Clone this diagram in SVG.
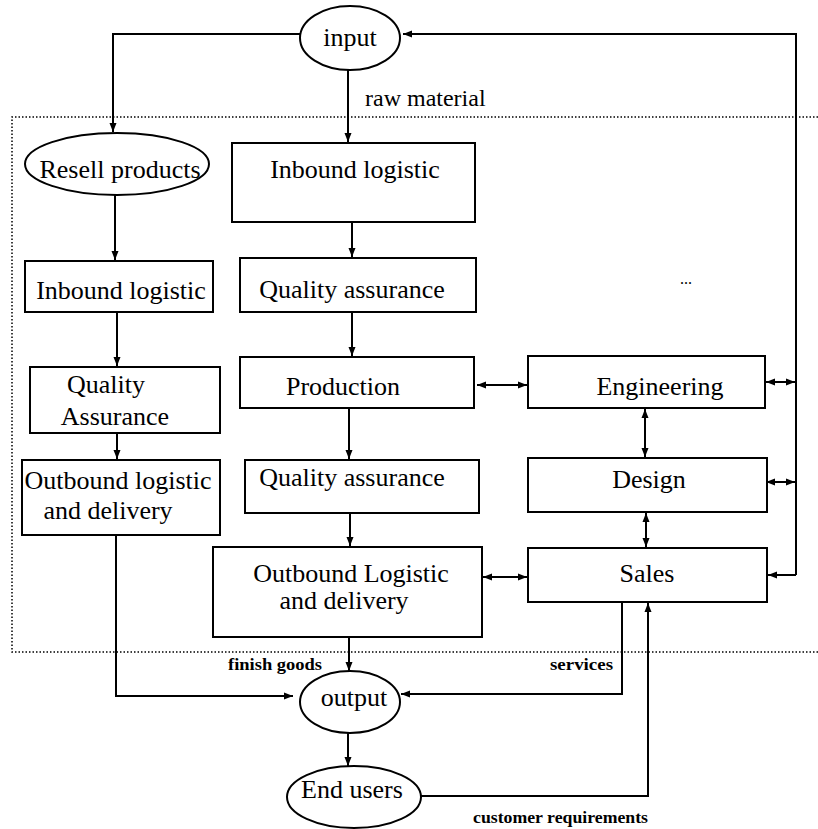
<svg xmlns="http://www.w3.org/2000/svg" width="818" height="829" viewBox="0 0 818 829">
<style>
.box{fill:#fff;stroke:#000;stroke-width:2}
.t{font-family:"Liberation Serif","Times New Roman",serif;font-size:26px;fill:#000;text-anchor:middle}
.s{font-family:"Liberation Serif","Times New Roman",serif;font-size:16px;font-weight:bold;fill:#000}
.c{fill:none;stroke:#000;stroke-width:2}
.dot{fill:none;stroke:#000;stroke-width:1.5;stroke-dasharray:1.5 2}
</style>
<defs>
<marker id="ah" markerUnits="userSpaceOnUse" markerWidth="9" markerHeight="8" refX="9" refY="4" orient="auto-start-reverse">
<path d="M0,0.5 L9,4 L0,7.5 z" fill="#000"/>
</marker>
</defs>
<rect width="818" height="829" fill="#fff"/>
<g id="boundary">
<path class="dot" d="M818,117 H12 V652 H818"/>
</g>
<g id="connectors">
<path class="c" d="M300,34 H113 V132" marker-end="url(#ah)"/>
<path class="c" d="M348,70 V142" marker-end="url(#ah)"/>
<path class="c" d="M796,575 V34 H403" marker-end="url(#ah)"/>
<path class="c" d="M796,575 H768" marker-end="url(#ah)"/>
<path class="c" d="M115,195 V260" marker-end="url(#ah)"/>
<path class="c" d="M117,312 V366" marker-end="url(#ah)"/>
<path class="c" d="M117,433 V459" marker-end="url(#ah)"/>
<path class="c" d="M116,535 V696 H293" marker-end="url(#ah)"/>
<path class="c" d="M352,222 V257" marker-end="url(#ah)"/>
<path class="c" d="M352,312 V356" marker-end="url(#ah)"/>
<path class="c" d="M349,408 V459" marker-end="url(#ah)"/>
<path class="c" d="M350,513 V546" marker-end="url(#ah)"/>
<path class="c" d="M349,637 V671" marker-end="url(#ah)"/>
<path class="c" d="M348,733 V766" marker-end="url(#ah)"/>
<path class="c" d="M477,385 H527" marker-start="url(#ah)" marker-end="url(#ah)"/>
<path class="c" d="M766,382 H795" marker-start="url(#ah)" marker-end="url(#ah)"/>
<path class="c" d="M645,409 V457" marker-start="url(#ah)" marker-end="url(#ah)"/>
<path class="c" d="M766,482 H795" marker-start="url(#ah)" marker-end="url(#ah)"/>
<path class="c" d="M646,513 V547" marker-start="url(#ah)" marker-end="url(#ah)"/>
<path class="c" d="M483,577 H527" marker-start="url(#ah)" marker-end="url(#ah)"/>
<path class="c" d="M622,602 V694 H401" marker-end="url(#ah)"/>
<path class="c" d="M421,796 H648 V603" marker-end="url(#ah)"/>
</g>
<g id="input">
<ellipse class="box" cx="350" cy="38" rx="50" ry="32"/>
<text class="t" x="350" y="46">input</text>
</g>
<text class="t" x="365" y="106" style="text-anchor:start;font-size:24px">raw material</text>
<g id="resell">
<ellipse class="box" cx="117" cy="164" rx="92" ry="31"/>
<text class="t" x="120" y="178">Resell products</text>
</g>
<g id="inbound-main">
<rect class="box" x="232" y="143" width="243" height="79"/>
<text class="t" x="355" y="178">Inbound logistic</text>
</g>
<g id="inbound-left">
<rect class="box" x="25" y="261" width="188" height="51"/>
<text class="t" x="121" y="299">Inbound logistic</text>
</g>
<g id="qa-left">
<rect class="box" x="30" y="367" width="190" height="66"/>
<text class="t" x="106" y="393">Quality</text>
<text class="t" x="115" y="425">Assurance</text>
</g>
<g id="outbound-left">
<rect class="box" x="22" y="460" width="198" height="75"/>
<text class="t" x="118" y="489">Outbound logistic</text>
<text class="t" x="108" y="519">and delivery</text>
</g>
<g id="qa-main">
<rect class="box" x="240" y="258" width="236" height="54"/>
<text class="t" x="352" y="298">Quality assurance</text>
</g>
<g id="production">
<rect class="box" x="240" y="357" width="234" height="51"/>
<text class="t" x="343" y="395">Production</text>
</g>
<g id="qa-main-2">
<rect class="box" x="245" y="460" width="234" height="53"/>
<text class="t" x="352" y="486">Quality assurance</text>
</g>
<g id="outbound-main">
<rect class="box" x="213" y="547" width="269" height="90"/>
<text class="t" x="351" y="582">Outbound Logistic</text>
<text class="t" x="344" y="609">and delivery</text>
</g>
<g id="engineering">
<rect class="box" x="528" y="356" width="237" height="52"/>
<text class="t" x="660" y="395">Engineering</text>
</g>
<g id="design">
<rect class="box" x="528" y="458" width="239" height="54"/>
<text class="t" x="649" y="488">Design</text>
</g>
<g id="sales">
<rect class="box" x="528" y="548" width="239" height="54"/>
<text class="t" x="647" y="582">Sales</text>
</g>
<g id="output">
<ellipse class="box" cx="350" cy="702" rx="50" ry="31"/>
<text class="t" x="354" y="706">output</text>
</g>
<g id="end-users">
<ellipse class="box" cx="354" cy="797" rx="67" ry="31"/>
<text class="t" x="352" y="798">End users</text>
</g>
<text class="s" x="228" y="670" textLength="94" lengthAdjust="spacingAndGlyphs">finish goods</text>
<text class="s" x="550" y="670" textLength="63" lengthAdjust="spacingAndGlyphs">services</text>
<text class="s" x="473" y="823" textLength="175" lengthAdjust="spacingAndGlyphs">customer requirements</text>
<text class="s" x="680" y="284" style="font-weight:normal">...</text>
</svg>
